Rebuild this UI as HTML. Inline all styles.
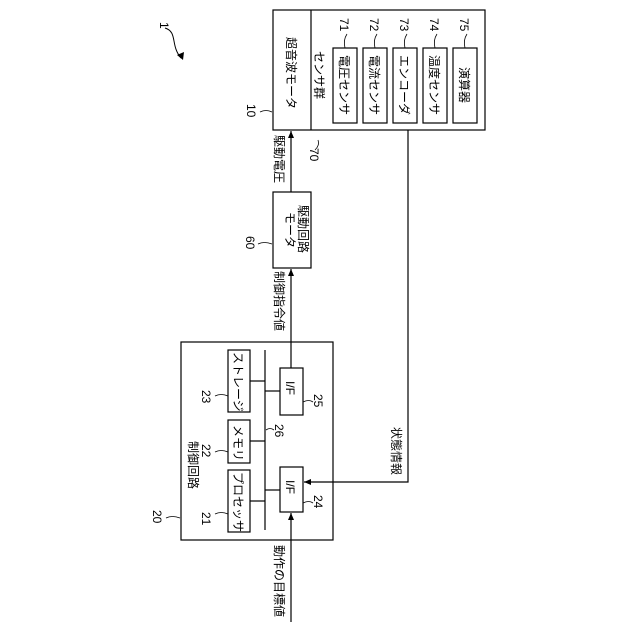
<!DOCTYPE html>
<html><head><meta charset="utf-8"><style>
html,body{margin:0;padding:0;background:#fff;width:640px;height:640px;overflow:hidden}
text{font-family:"Liberation Sans","Noto Sans CJK JP",sans-serif;font-size:12px;fill:#000}
</style></head><body>
<svg width="640" height="640" viewBox="0 0 640 640" xmlns="http://www.w3.org/2000/svg">
<defs><marker id="a" markerWidth="8" markerHeight="8" refX="7" refY="4" orient="auto" markerUnits="userSpaceOnUse"><path d="M0,1 L7,4 L0,7 z" fill="#000"/></marker></defs>
<g fill="none" stroke="#000" stroke-width="1.2">
<rect x="273" y="10" width="212" height="120"/>
<line x1="311" y1="10" x2="311" y2="130"/>
<rect x="333" y="48" width="24" height="75"/>
<rect x="363" y="48" width="24" height="75"/>
<rect x="393" y="48" width="24" height="75"/>
<rect x="423" y="48" width="24" height="75"/>
<rect x="453" y="48" width="24" height="75"/>
<rect x="273" y="192" width="38" height="76"/>
<rect x="181" y="342" width="152" height="198"/>
<rect x="228" y="470" width="22" height="62"/>
<rect x="228" y="420" width="22" height="43"/>
<rect x="228" y="350" width="22" height="62"/>
<rect x="280" y="368" width="23" height="47"/>
<rect x="280" y="467" width="23" height="45"/>
<line x1="265" y1="350" x2="265" y2="530"/>
<line x1="250" y1="381" x2="265" y2="381"/>
<line x1="250" y1="441" x2="265" y2="441"/>
<line x1="250" y1="501" x2="265" y2="501"/>
<line x1="265" y1="391" x2="280" y2="391"/>
<line x1="265" y1="490" x2="280" y2="490"/>
<line x1="291" y1="368" x2="291" y2="269" marker-end="url(#a)"/>
<line x1="291" y1="192" x2="291" y2="131" marker-end="url(#a)"/>
<line x1="291" y1="622" x2="291" y2="513" marker-end="url(#a)"/>
<polyline points="408,130 408,482 304,482" marker-end="url(#a)"/>
<path d="M165,28 C178,32 170,45 181,58" stroke-width="1"/>
</g>
<path d="M177,55 L183,60 L184,52 z" fill="#000"/>
<g fill="none" stroke="#000" stroke-width="0.8">
<path d="M260,112 q6,-3 12,0"/><path d="M318,140 q2,5 -3,10"/><path d="M258,244 q6,-3 14,0"/>
<path d="M166,518 q6,-3 14,0"/><path d="M215,514 q6,-3 13,0"/><path d="M215,452 q6,-3 13,0"/><path d="M215,396 q6,-3 13,0"/>
<path d="M266,430 q4,-3 8,0"/><path d="M303,402 q6,-3 10,0"/><path d="M303,503 q6,-3 10,0"/>
<path d="M345,48 q-2,-8 2,-14"/><path d="M375,48 q-2,-8 2,-14"/><path d="M405,48 q-2,-8 2,-14"/><path d="M435,48 q-2,-8 2,-14"/><path d="M465,48 q-2,-8 2,-14"/>
</g>
<g>
<text transform="translate(160,22) rotate(90)">1</text>
<text transform="translate(247,104) rotate(90)">10</text>
<text transform="translate(310,148) rotate(90)">70</text>
<text transform="translate(246,236) rotate(90)">60</text>
<text transform="translate(153,510) rotate(90)">20</text>
<text transform="translate(202,512) rotate(90)">21</text>
<text transform="translate(202,444) rotate(90)">22</text>
<text transform="translate(202,390) rotate(90)">23</text>
<text transform="translate(275,424) rotate(90)">26</text>
<text transform="translate(314,394) rotate(90)">25</text>
<text transform="translate(314,495) rotate(90)">24</text>
<text transform="translate(340,18) rotate(90)">71</text>
<text transform="translate(370,18) rotate(90)">72</text>
<text transform="translate(400,18) rotate(90)">73</text>
<text transform="translate(430,18) rotate(90)">74</text>
<text transform="translate(460,18) rotate(90)">75</text>
<text transform="translate(287,37) rotate(90)">超音波モータ</text>
<text transform="translate(315,51) rotate(90)">センサ群</text>
<text transform="translate(340,55) rotate(90)">電圧センサ</text>
<text transform="translate(370,55) rotate(90)">電流センサ</text>
<text transform="translate(400,55) rotate(90)">エンコーダ</text>
<text transform="translate(430,55) rotate(90)">温度センサ</text>
<text transform="translate(460,67) rotate(90)">演算器</text>
<text transform="translate(286,212) rotate(90)">モータ</text>
<text transform="translate(299,205) rotate(90)">駆動回路</text>
<text transform="translate(275,135) rotate(90)">駆動電圧</text>
<text transform="translate(275,271) rotate(90)">制御指令値</text>
<text transform="translate(275,545) rotate(90)">動作の目標値</text>
<text transform="translate(392,427) rotate(90)">状態情報</text>
<text transform="translate(189,441) rotate(90)">制御回路</text>
<text transform="translate(234,472) rotate(90)">プロセッサ</text>
<text transform="translate(234,425) rotate(90)">メモリ</text>
<text transform="translate(234,352) rotate(90)">ストレージ</text>
<text transform="translate(286,381) rotate(90)">I/F</text>
<text transform="translate(286,480) rotate(90)">I/F</text>
</g>
</svg>
</body></html>
